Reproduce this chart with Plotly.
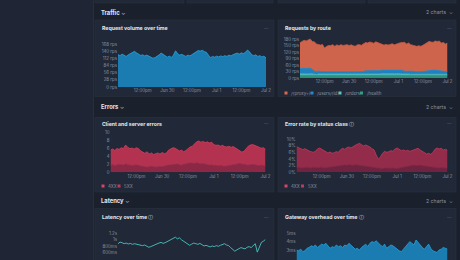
import plotly.graph_objects as go
import pandas as pd

# ---------------- data ----------------
time_start = "2024-06-29 00:00"
time_end = "2024-07-02 00:00"
x_tick_vals = ["2024-06-29 12:00", "2024-06-30 00:00", "2024-06-30 12:00",
               "2024-07-01 00:00", "2024-07-01 12:00", "2024-07-02 00:00"]
x_tick_text = ["12:00pm", "Jun 30", "12:00pm", "Jul 1", "12:00pm", "Jul 2"]

request_volume = [128, 124, 130, 126, 121, 127, 132, 136, 141, 135,
                  129, 125, 127, 123, 126, 122, 119, 114, 116, 120,
                  127, 134, 128, 121, 118, 122, 117, 126, 143, 132,
                  126, 129, 124, 121, 126, 123, 128, 133, 139, 144,
                  142, 145, 140, 137, 126, 116, 121, 118, 122, 119,
                  123, 120, 124, 121, 126, 123, 128, 131, 134, 130,
                  135, 132, 137, 146, 139, 128, 124, 127, 121, 124,
                  119, 122, 115]
rps_tick_vals = [0, 28, 56, 84, 112, 140, 168]
rps_tick_text = ["0 rps", "28 rps", "56 rps", "84 rps", "112 rps", "140 rps", "168 rps"]

route_health = [10, 10, 11, 10, 10, 11, 10, 10, 9, 10,
                10, 10, 9, 10, 10, 9, 10, 10, 10, 9,
                10, 10, 9, 10, 10, 10, 9, 10, 10, 10,
                10, 9, 10, 10, 11, 10, 10, 10, 9, 10,
                11, 10, 10, 10, 11, 10, 10, 11, 10, 10,
                10, 11, 10, 10, 9, 10, 10, 10, 10, 9,
                10, 10, 10, 11, 10, 10, 11, 10, 10, 10,
                10, 9, 10]
route_orders = [9, 8, 9, 9, 8, 9, 8, 8, 7, 8,
                8, 7, 8, 8, 7, 8, 8, 7, 8, 8,
                7, 8, 8, 7, 8, 8, 7, 8, 8, 7,
                8, 8, 9, 8, 8, 9, 8, 9, 8, 8,
                9, 9, 8, 9, 9, 8, 9, 9, 8, 9,
                8, 8, 7, 8, 8, 7, 8, 8, 7, 8,
                8, 8, 9, 9, 8, 9, 9, 8, 9, 8,
                8, 8, 7]
route_users = [26, 27, 25, 26, 24, 25, 22, 14, 13, 14,
               12, 13, 14, 13, 12, 13, 12, 11, 12, 11,
               12, 13, 12, 11, 12, 11, 12, 11, 12, 12,
               11, 13, 14, 15, 14, 15, 14, 16, 17, 16,
               15, 18, 19, 20, 19, 21, 20, 19, 20, 18,
               17, 14, 13, 14, 13, 14, 12, 13, 14, 13,
               12, 14, 13, 16, 17, 18, 17, 18, 17, 14,
               13, 12, 13]
route_proxy = [118, 124, 129, 126, 133, 135, 128, 135, 128, 124,
               122, 125, 107, 115, 121, 120, 124, 118, 123, 121,
               125, 119, 122, 126, 120, 124, 121, 118, 123, 125,
               122, 126, 131, 129, 133, 130, 128, 132, 129, 127,
               121, 115, 118, 113, 116, 119, 114, 117, 124, 126,
               129, 132, 127, 130, 124, 120, 117, 115, 118, 116,
               121, 126, 130, 133, 131, 128, 134, 132, 135, 129,
               133, 128, 131]
route_tick_vals = [0, 30, 60, 90, 120, 150, 180]
route_tick_text = ["0 rps", "30 rps", "60 rps", "90 rps", "120 rps", "150 rps", "180 rps"]
route_names = ["/{proxy+}", "/users/{id}", "/orders", "/health"]

errors_4xx = [3.8, 4.0, 3.8, 4.2, 3.8, 4.3, 4.2, 4.8, 4.4, 4.2,
              4.4, 4.1, 4.3, 4.3, 3.8, 3.6, 3.4, 3.9, 3.2, 3.4,
              3.1, 3.4, 3.5, 3.1, 3.6, 3.1, 3.2, 3.8, 4.1, 4.2,
              4.1, 3.6, 3.5, 3.8, 3.2, 3.3, 3.7, 4.0, 4.3, 5.0,
              5.3, 5.6, 5.5, 5.6, 5.5, 5.8, 5.6, 5.7, 5.3, 5.0,
              5.3, 4.9, 5.2, 5.0, 4.8, 4.9, 4.5, 4.6, 4.2, 3.8,
              3.2, 3.0, 3.3, 4.1, 4.8, 5.0, 5.0, 4.9, 4.8, 4.6,
              4.3, 4.5, 4.2]
errors_5xx = [1.8, 1.9, 1.7, 1.8, 2.0, 1.9, 1.8, 2.1, 1.9, 1.8,
              1.7, 1.8, 1.9, 1.7, 1.6, 1.5, 1.4, 1.3, 1.4, 1.5,
              1.4, 1.3, 1.4, 1.5, 1.4, 1.6, 1.7, 1.8, 1.9, 2.0,
              2.0, 2.1, 1.9, 1.8, 2.0, 2.2, 2.3, 2.4, 2.3, 2.2,
              2.4, 2.3, 2.1, 2.2, 2.0, 1.9, 1.8, 1.9, 1.7, 1.8,
              1.6, 1.7, 1.6, 1.5, 1.6, 1.7, 1.8, 1.9, 2.0, 2.1,
              2.2, 2.1, 2.0, 1.9, 1.8, 1.9, 2.0, 1.9, 1.8, 1.7,
              1.8, 1.7, 1.6]
err_tick_vals = [0, 2, 4, 6, 8, 10]
err_tick_text = ["0", "2", "4", "6", "8", "10"]

rate_4xx = [6.3, 5.9, 5.7, 5.4, 5.5, 5.2, 5.0, 4.9, 4.5, 4.9,
            5.7, 5.9, 5.4, 5.1, 4.6, 4.3, 4.5, 4.2, 4.2, 4.4,
            4.1, 4.8, 5.1, 4.7, 5.3, 5.3, 5.1, 5.7, 5.8, 6.2,
            6.6, 6.3, 6.0, 6.4, 6.3, 6.0, 5.6, 5.3, 3.9, 2.8,
            3.4, 4.6, 5.0, 4.8, 5.1, 5.3, 5.0, 5.8, 6.2, 5.5,
            5.1, 5.2, 4.7, 4.8, 4.4, 4.4, 4.6, 5.1, 5.1, 4.5,
            4.3, 3.9, 3.7, 4.0, 3.8, 4.4, 5.5, 5.8, 5.7, 5.8,
            5.4, 5.7, 5.3]
rate_5xx = [1.4, 1.5, 1.3, 1.4, 1.6, 1.5, 1.4, 1.3, 1.5, 1.4,
            1.3, 1.4, 1.5, 1.3, 1.4, 1.5, 1.6, 1.5, 1.7, 1.8,
            1.9, 2.0, 2.1, 2.2, 2.1, 2.3, 2.2, 2.1, 2.3, 2.2,
            2.1, 2.0, 1.9, 1.8, 1.7, 1.6, 1.5, 1.4, 1.3, 1.1,
            1.2, 1.1, 1.3, 1.2, 1.1, 1.2, 1.3, 1.2, 1.1, 1.3,
            1.4, 1.5, 1.7, 1.8, 1.9, 2.1, 2.2, 2.0, 2.1, 2.2,
            2.0, 1.9, 1.8, 1.7, 1.6, 1.5, 1.4, 1.5, 1.3, 1.4,
            1.3, 1.2, 1.3]
rate_tick_vals = [0, 2, 4, 6, 8, 10]
rate_tick_text = ["0%", "2%", "4%", "6%", "8%", "10%"]

latency_ms = [880, 930, 910, 880, 900, 870, 890, 860, 880, 870,
              850, 830, 820, 840, 810, 770, 790, 820, 860, 880,
              900, 920, 890, 910, 940, 970, 1010, 1050, 1080, 1030,
              1060, 1000, 960, 900, 860, 830, 870, 900, 880, 860,
              890, 840, 810, 830, 800, 780, 810, 790, 820, 800,
              830, 860, 880, 840, 820, 760, 700, 650, 690, 730,
              760, 740, 720, 770, 790, 760, 820, 880, 620, 780,
              920, 960, 1010]
lat_tick_vals = [400, 600, 800, 1000, 1200]
lat_tick_text = ["400ms", "600ms", "800ms", "1s", "1.2s"]

gateway_ms = [3.0, 2.9, 3.1, 2.8, 2.9, 3.2, 3.3, 3.5, 3.4, 3.6,
              3.3, 3.5, 3.7, 3.6, 3.8, 3.5, 3.2, 3.4, 3.3, 3.6,
              3.4, 3.5, 3.3, 3.6, 3.5, 3.8, 3.6, 3.3, 3.1, 3.2,
              3.0, 3.3, 3.5, 3.7, 3.4, 3.8, 4.0, 3.9, 4.1, 3.8,
              3.6, 3.4, 3.7, 3.2, 3.4, 3.6, 3.5, 3.3, 3.0, 2.9,
              2.8, 3.1, 3.4, 3.7, 4.0, 3.8, 3.6, 4.2, 3.9, 3.5,
              3.3, 3.1, 3.4, 3.7, 3.2, 2.9, 2.8, 2.7, 3.0, 3.1,
              3.3, 3.2, 3.1]
gw_tick_vals = [2, 3, 4, 5]
gw_tick_text = ["2ms", "3ms", "4ms", "5ms"]

times = pd.date_range(time_start, time_end, freq="h")

# ---------------- layout helpers ----------------
W, H = 460, 260
def fx(x): return x / W
def fy(y): return 1 - y / H

BG = "#1b202d"
CARD = "#212837"
CARD_LINE = "#2a3242"
TICK = "#8a92a3"
TITLE = "#e4e7ee"
FONT = "Inter"

fig = go.Figure()

def area(x, y, color_line, color_fill, axis, stack=None, fill="tozeroy", width=0.8):
    kw = dict(x=x, y=y, mode="lines", line=dict(color=color_line, width=width),
              fillcolor=color_fill, xaxis="x" + axis, yaxis="y" + axis,
              hoverinfo="skip", showlegend=False)
    if stack:
        kw["stackgroup"] = stack
    elif fill:
        kw["fill"] = fill
    fig.add_trace(go.Scatter(**kw))

# chart 1
area(times, request_volume, "#2aa3de", "#1a7cb0", "1")
# chart 2 (stacked)
area(times, route_health, "#2f9e86", "#2a8f7a", "2", stack="routes")
area(times, route_orders, "#5cc3c4", "#4aaeb3", "2", stack="routes")
area(times, route_users, "#2392d4", "#1f82c0", "2", stack="routes")
area(times, route_proxy, "#c95a44", "#cf644c", "2", stack="routes")
# chart 3 (stacked)
area(times, errors_5xx, "#a02f50", "#8a2846", "3", stack="err")
area(times, errors_4xx, "#d2405f", "#b3324f", "3", stack="err")
# chart 4 (stacked)
area(times, rate_5xx, "#8a2947", "#6e2340", "4", stack="rate")
area(times, rate_4xx, "#c43b5e", "#922c4a", "4", stack="rate")
# chart 5 (line)
area(times, latency_ms, "#4cc4c0", None, "5", fill=None, width=0.9)
# chart 6
area(times, gateway_ms, "#2aa3de", "#1a7cb0", "6")

def axes(n, x0, x1, ytop, ybot, yrange, tv, tt, show_x=True):
    xa = dict(domain=[fx(x0), fx(x1)], anchor="y" + n, range=[time_start, time_end],
              showgrid=False, zeroline=False, showline=False, ticks="",
              tickvals=x_tick_vals, ticktext=x_tick_text, showticklabels=show_x,
              tickfont=dict(size=4.4, color=TICK, family=FONT), automargin=False,
              fixedrange=True)
    ya = dict(domain=[fy(ybot), fy(ytop)], anchor="x" + n, range=yrange,
              showgrid=False, zeroline=False, showline=False, ticks="",
              tickvals=tv, ticktext=tt,
              tickfont=dict(size=4.4, color=TICK, family=FONT), automargin=False,
              fixedrange=True)
    key = "" if n == "1" else n
    return {"xaxis" + key: xa, "yaxis" + key: ya}

lay = {}
lay.update(axes("1", 118, 266, 42, 87, [0, 168 * 45 / 42.5], rps_tick_vals, rps_tick_text))
lay.update(axes("2", 300, 447.5, 37, 78, [0, 180 * 41 / 39], route_tick_vals, route_tick_text))
lay.update(axes("3", 110.5, 265.5, 130, 172.3, [0, 10 * 42.3 / 39.6], err_tick_vals, err_tick_text))
lay.update(axes("4", 296.5, 447.5, 136, 172.3, [0, 10 * 36.3 / 33.3], rate_tick_vals, rate_tick_text))
s5 = 800 / 26.0
lay.update(axes("5", 118, 265.5, 229, 260, [400 - 0.7 * s5, 1200 + 4.3 * s5], lat_tick_vals, lat_tick_text, show_x=False))
s6 = 3 / 25.0
lay.update(axes("6", 296.5, 447.5, 229, 260, [2 - 1.7 * s6, 5 + 4.3 * s6], gw_tick_vals, gw_tick_text, show_x=False))

shapes = []
def rect(x0, y0, x1, y1, fill, line=None, lw=0.6):
    shapes.append(dict(type="rect", xref="paper", yref="paper", layer="below",
                       x0=fx(x0), x1=fx(x1), y0=fy(y1), y1=fy(y0), fillcolor=fill,
                       line=dict(color=line or fill, width=lw if line else 0)))

# sidebar
rect(0, -5, 93, 265, "#1f2535")
rect(93, -5, 94, 265, "#272e3e")
# top row remnants
for a, b in [(95, 184), (187, 273), (278, 365), (368, 456)]:
    rect(a, -10, b, 3, CARD, CARD_LINE)
# cards
for (a, b), (t, btm) in [((95, 274), (20, 96.5)), ((278, 456), (20, 96.5)),
                         ((95, 274), (117.5, 192)), ((278, 456), (117.5, 192)),
                         ((95, 274), (208.5, 270)), ((278, 456), (208.5, 270))]:
    rect(a, t, b, btm, CARD, CARD_LINE)

annotations = []
def text(x, y, s, size=5.2, color=TITLE, anchor="left", bold=False):
    annotations.append(dict(xref="paper", yref="paper", x=fx(x), y=fy(y),
                            text=("<b>%s</b>" % s) if bold else s, showarrow=False,
                            xanchor=anchor, yanchor="middle",
                            font=dict(size=size, color=color, family=FONT)))

# section headers
for label, y in [("Traffic", 12), ("Errors", 106.5), ("Latency", 200.5)]:
    text(99, y, "<span style='color:#e4e7ee'>%s</span> <span style='color:#8a92a3'>⌄</span>" % label,
         size=5.8, bold=True)
    text(455, y, "2 charts  ⌄", size=5.2, color=TICK, anchor="right")

# card titles
text(100, 28.5, "Request volume over time", bold=True)
text(283, 28.5, "Requests by route", bold=True)
text(100, 123.5, "Client and server errors", bold=True)
text(283, 123.5, "Error rate by status class <span style='color:#8a92a3'>ⓘ</span>", bold=True)
text(100, 217, "Latency over time <span style='color:#8a92a3'>ⓘ</span>", bold=True)
text(283, 217, "Gateway overhead over time <span style='color:#8a92a3'>ⓘ</span>", bold=True)
for x, y in [(266, 28.5), (449, 28.5), (266, 123.5), (449, 123.5), (266, 217), (449, 217)]:
    text(x, y, "—", size=4.5, color="#59616f", anchor="center")

# legends
def legend_item(x, y, color, label):
    shapes.append(dict(type="rect", xref="paper", yref="paper", layer="above",
                       x0=fx(x - 1.5), x1=fx(x + 1.5), y0=fy(y + 1.5), y1=fy(y - 1.5),
                       fillcolor=color, line=dict(width=0)))
    text(x + 3, y, label, size=4.4, color=TICK)

for x, c, lbl in [(286, "#d9694f", route_names[0]), (312, "#1f8ad0", route_names[1]),
                  (340, "#5cc3c4", route_names[2]), (361.5, "#2f9e86", route_names[3])]:
    legend_item(x, 93, c, lbl)
legend_item(103, 186, "#d6456a", "4XX")
legend_item(119, 186, "#c03a60", "5XX")
legend_item(286, 186, "#d6456a", "4XX")
legend_item(302.5, 186, "#c03a60", "5XX")

fig.update_layout(
    template="none", width=W, height=H, margin=dict(l=0, r=0, t=0, b=0),
    paper_bgcolor=BG, plot_bgcolor="rgba(0,0,0,0)", showlegend=False,
    shapes=shapes, annotations=annotations, hovermode=False,
    font=dict(family=FONT, color=TICK), **lay)

fig.write_html("out.html", config={"displayModeBar": False})
